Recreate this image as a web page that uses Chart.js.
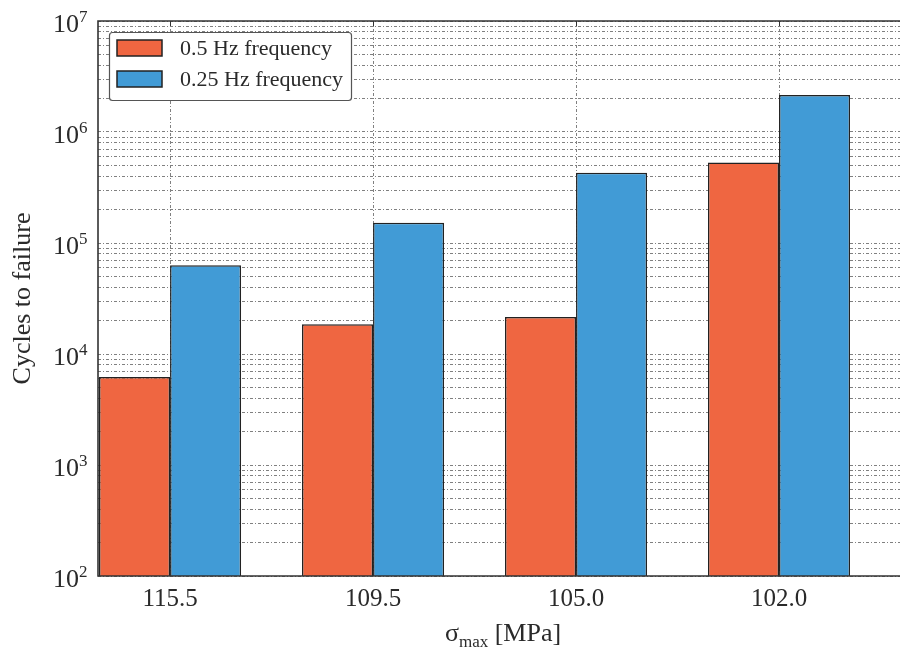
<!DOCTYPE html>
<html>
<head>
<meta charset="utf-8">
<script src="https://cdn.jsdelivr.net/npm/chart.js@4"></script>
<style>
  html, body { margin: 0; padding: 0; background: #fff; }
  #wrap { width: 900px; height: 649px; }
</style>
</head>
<body>
<div id="wrap"><canvas id="chart"></canvas></div>
<script>
// stress levels (x categories) and cycles to failure
const sigmaLabels = ['115.5', '109.5', '105.0', '102.0'];
const cycles05Hz = [6200, 18500, 21500, 530000];
const cycles025Hz = [63000, 152000, 430000, 2150000];
const seriesNames = ['0.5 Hz frequency', '0.25 Hz frequency'];
const decadeExps = [2, 3, 4, 5, 6, 7];

const FONT = '"Liberation Serif", "DejaVu Serif", serif';
const TEXT = '#2a2a2a';
const RED = '#EF6641';
const BLUE = '#419BD6';

// 對數軸的 1..9 格線
const yGridValues = [];
decadeExps.forEach((e, i) => {
  if (i === decadeExps.length - 1) { yGridValues.push(Math.pow(10, e)); return; }
  for (let m = 1; m <= 9; m++) yGridValues.push(m * Math.pow(10, e));
});

// 上標刻度 10^n
const yTickLabelPlugin = {
  id: 'yTickLabels',
  afterDraw(chart) {
    const ctx = chart.ctx;
    const y = chart.scales.y;
    ctx.save();
    ctx.fillStyle = TEXT;
    ctx.textBaseline = 'alphabetic';
    decadeExps.forEach(e => {
      const py = y.getPixelForValue(Math.pow(10, e));
      ctx.font = '26px ' + FONT;
      ctx.textAlign = 'right';
      ctx.fillText('10', 79, py + 11);
      ctx.font = '17px ' + FONT;
      ctx.textAlign = 'left';
      ctx.fillText(String(e), 79, py + 0.5);
    });
    ctx.restore();
  }
};

// 邊框、x 軸標題、圖例
const framePlugin = {
  id: 'frame',
  afterDraw(chart) {
    const ctx = chart.ctx;
    const a = chart.chartArea;
    const xs = chart.scales.x;
    ctx.save();
    ctx.strokeStyle = '#333';
    ctx.lineWidth = 1.6;
    ctx.beginPath();
    ctx.moveTo(a.right + 2, a.top);
    ctx.lineTo(a.left, a.top);
    ctx.lineTo(a.left, a.bottom);
    ctx.lineTo(a.right + 2, a.bottom);
    ctx.stroke();
    // 上緣小刻度
    ctx.lineWidth = 1;
    sigmaLabels.forEach((_, i) => {
      const px = Math.round(xs.getPixelForValue(i)) + 0.5;
      ctx.beginPath();
      ctx.moveTo(px, a.top);
      ctx.lineTo(px, a.top + 5);
      ctx.moveTo(px, a.bottom);
      ctx.lineTo(px, a.bottom - 5);
      ctx.stroke();
    });

    // x 軸標題 σ_max [MPa]
    ctx.fillStyle = TEXT;
    ctx.textBaseline = 'alphabetic';
    ctx.textAlign = 'left';
    const parts = [
      { t: '\u03c3', f: '26px ' + FONT, dy: 0 },
      { t: 'max', f: '17px ' + FONT, dy: 6 },
      { t: ' [MPa]', f: '26px ' + FONT, dy: 0 }
    ];
    let total = 0;
    parts.forEach(p => { ctx.font = p.f; p.w = ctx.measureText(p.t).width; total += p.w; });
    let x = 503 - total / 2;
    parts.forEach(p => { ctx.font = p.f; ctx.fillText(p.t, x, 641 + p.dy); x += p.w; });

    // 圖例
    const lx = 109, ly = 32, lw = 242, lh = 68;
    ctx.beginPath();
    ctx.roundRect(lx + 0.5, ly + 0.5, lw, lh, 3);
    ctx.fillStyle = '#fff';
    ctx.fill();
    ctx.strokeStyle = '#555';
    ctx.lineWidth = 1.2;
    ctx.stroke();
    chart.data.datasets.forEach((ds, i) => {
      const sy = 40 + i * 31;
      ctx.fillStyle = ds.backgroundColor;
      ctx.fillRect(117, sy, 45, 16);
      ctx.strokeStyle = '#222';
      ctx.lineWidth = 1.5;
      ctx.strokeRect(117, sy, 45, 16);
      ctx.fillStyle = TEXT;
      ctx.font = '22px ' + FONT;
      ctx.textBaseline = 'middle';
      ctx.fillText(ds.label, 180, sy + 9);
    });
    ctx.restore();
  }
};

const toPoints = arr => arr.map((v, i) => ({ x: i, y: v }));

new Chart(document.getElementById('chart'), {
  type: 'bar',
  data: {
    datasets: [
      {
        label: seriesNames[0],
        data: toPoints(cycles05Hz),
        backgroundColor: RED,
        borderColor: '#222',
        borderWidth: 1.5,
        categoryPercentage: 0.7,
        barPercentage: 1.0
      },
      {
        label: seriesNames[1],
        data: toPoints(cycles025Hz),
        backgroundColor: BLUE,
        borderColor: '#222',
        borderWidth: 1.5,
        categoryPercentage: 0.7,
        barPercentage: 1.0
      }
    ]
  },
  options: {
    responsive: true,
    maintainAspectRatio: false,
    animation: false,
    layout: { padding: { top: 21, right: 0, left: 0, bottom: 0 } },
    plugins: {
      legend: { display: false },
      tooltip: { enabled: false }
    },
    scales: {
      x: {
        type: 'linear',
        min: -0.355,
        max: 3.596,
        offset: false,
        z: 1,
        afterBuildTicks: s => { s.ticks = sigmaLabels.map((_, i) => ({ value: i })); },
        afterFit: s => { s.height = 73; },
        ticks: {
          color: TEXT,
          font: { family: FONT, size: 25 },
          padding: 8,
          maxRotation: 0,
          callback: v => sigmaLabels[v] ?? ''
        },
        grid: { color: '#808080', lineWidth: 1, drawTicks: false, offset: false },
        border: { display: false, dash: [3, 2, 1, 2] }
      },
      y: {
        type: 'logarithmic',
        min: 100,
        max: 1e7,
        z: 1,
        afterBuildTicks: s => { s.ticks = yGridValues.map(v => ({ value: v })); },
        afterFit: s => { s.width = 98; },
        ticks: { display: false },
        grid: { color: '#808080', lineWidth: 1, drawTicks: false },
        border: { display: false, dash: [3, 2, 1, 2] },
        title: {
          display: true,
          text: 'Cycles to failure',
          color: TEXT,
          font: { family: FONT, size: 26 },
          padding: { top: 8, bottom: 0 }
        }
      }
    }
  },
  plugins: [yTickLabelPlugin, framePlugin]
});
</script>
</body>
</html>
